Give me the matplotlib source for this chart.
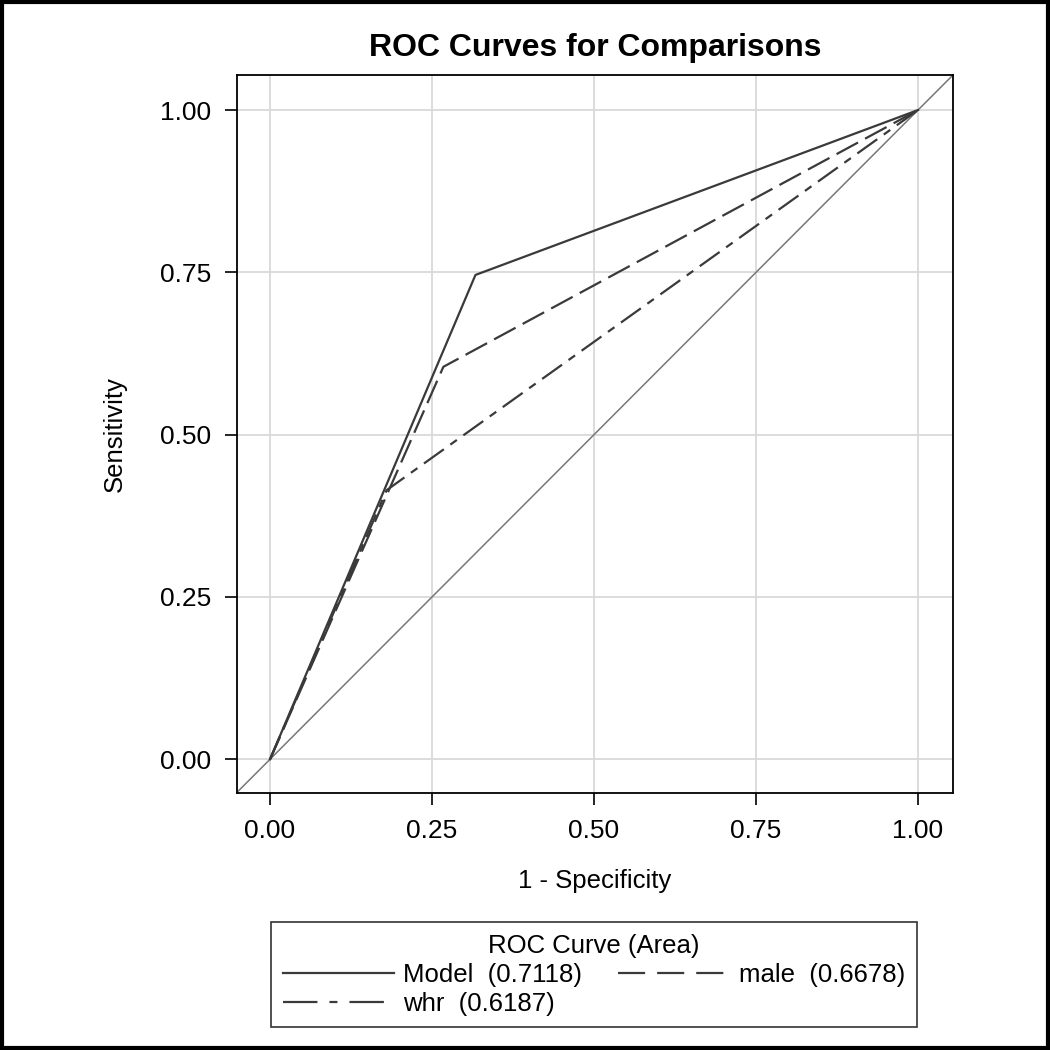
import matplotlib
matplotlib.use("Agg")
import matplotlib.pyplot as plt
from matplotlib.lines import Line2D
from matplotlib.patches import Rectangle

# ROC curve points (1 - specificity, sensitivity)
model_x = [0.0, 0.317, 1.0]
model_y = [0.0, 0.746, 1.0]
male_x = [0.0, 0.2675, 1.0]
male_y = [0.0, 0.6045, 1.0]
whr_x = [0.0, 0.180, 1.0]
whr_y = [0.0, 0.4145, 1.0]
labels = ["Model  (0.7118)", "male  (0.6678)", "whr  (0.6187)"]
ticks = [0.0, 0.25, 0.5, 0.75, 1.0]

plt.rcParams['font.family'] = ['Liberation Sans', 'DejaVu Sans']

fig = plt.figure(figsize=(10.5, 10.5), dpi=100)
ax = fig.add_axes([237/1050, 1 - 793/1050, (953-237)/1050, (793-75)/1050])

lc = '#3a3a3a'
ax.plot([-0.1, 1.1], [-0.1, 1.1], color='#777777', lw=1.1, zorder=2)
ax.plot(model_x, model_y, color=lc, lw=1.6, zorder=3)
ax.plot(male_x, male_y, color=lc, lw=1.6, zorder=3, linestyle=(0, (11, 3.6)))
ax.plot(whr_x, whr_y, color=lc, lw=1.6, zorder=3, linestyle=(0, (11, 3.6, 3.6, 3.6)))

ax.set_xlim(-0.051, 1.054)
ax.set_ylim(-0.052, 1.054)
ax.set_xticks(ticks)
ax.set_yticks(ticks)
ax.set_xticklabels(['%.2f' % t for t in ticks])
ax.set_yticklabels(['%.2f' % t for t in ticks])
ax.grid(True, color='#d9d9d9', lw=1.3, zorder=0)
ax.set_axisbelow(True)
ax.tick_params(labelsize=19, length=8.5, width=1.2, color='black', pad=10)
for s in ax.spines.values():
    s.set_linewidth(1.3)
ax.set_xlabel('1 - Specificity', fontsize=18.5, labelpad=19)
ax.set_ylabel('Sensitivity', fontsize=18.5, labelpad=24)
ax.set_title('ROC Curves for Comparisons', fontsize=23, fontweight='bold', pad=14)

# legend keys (longer dashes, like the SAS legend)
h_model = Line2D([], [], color=lc, lw=1.6)
h_male = Line2D([], [], color=lc, lw=1.6, linestyle=(0, (12.2, 5.4)))
h_whr = Line2D([], [], color=lc, lw=1.6, linestyle=(0, (15.5, 5.4, 3.6, 5.4)))

# column-wise fill: Model, whr in column 1; male in column 2
leg = fig.legend(handles=[h_model, h_whr, h_male], labels=[labels[0], labels[2], labels[1]], ncol=2,
                 title='ROC Curve (Area)', title_fontsize=18.5, fontsize=18.5,
                 loc='upper center', bbox_to_anchor=(594/1050, 1 - 922/1050),
                 frameon=True, fancybox=False, edgecolor='black',
                 handlelength=4.35, handletextpad=0.35, columnspacing=1.4,
                 borderpad=0.45, labelspacing=0.2, borderaxespad=0,
                 alignment='center')
leg.get_frame().set_linewidth(1.2)

fig.patches.append(Rectangle((0.002, 0.002), 0.996, 0.996, transform=fig.transFigure,
                             fill=False, edgecolor='black', lw=3))

fig.savefig('out.png', dpi=100)
